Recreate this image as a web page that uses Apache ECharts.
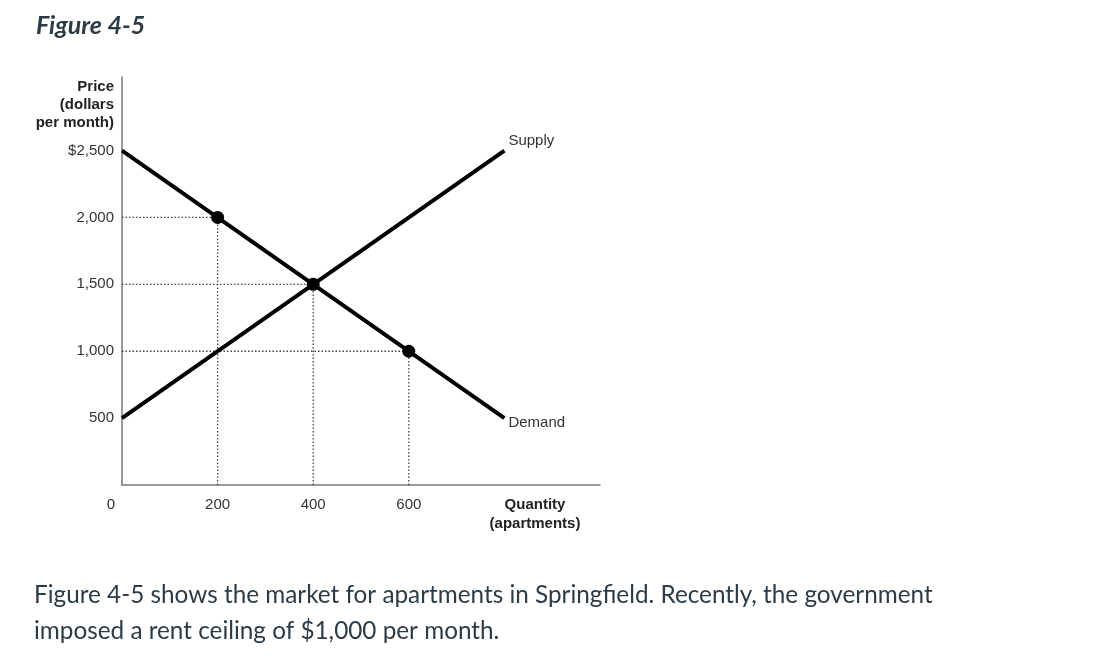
<!DOCTYPE html>
<html>
<head>
<meta charset="utf-8">
<script src="https://cdn.jsdelivr.net/npm/echarts@6/dist/echarts.min.js"></script>
<style>
html,body{margin:0;padding:0;background:#fff;}
#c{width:1098px;height:668px;}
</style>
</head>
<body>
<div id="c"></div>
<script>
// ---- data ----
const supplyQty = [0, 800];
const supplyPrice = [500, 2500];
const demandQty = [0, 800];
const demandPrice = [2500, 500];
const pointQty = [200, 400, 600];
const pointPrice = [2000, 1500, 1000];
const xTickValues = [0, 200, 400, 600];
const yTickValues = [500, 1000, 1500, 2000, 2500];
const figureTitle = 'Figure 4-5';
const yAxisTitle = 'Price\n(dollars\nper month)';
const xAxisTitle = 'Quantity\n(apartments)';
const caption = ['Figure 4-5 shows the market for apartments in Springfield. Recently, the government',
                 'imposed a rent ceiling of $1,000 per month.'];

const chartFont = '"Liberation Sans", Arial, sans-serif';
const textColor = '#333';

function fmtNum(v){ return v.toLocaleString('en-US'); }

const supplyData = supplyQty.map((q,i)=>[q, supplyPrice[i]]);
const demandData = demandQty.map((q,i)=>[q, demandPrice[i]]);

// dotted guide lines
const guides = [];
pointQty.forEach((q,i)=>{
  const p = pointPrice[i];
  guides.push([[0,p],[q,p]]);
  guides.push([[q,0],[q,p]]);
});
const guideSeries = guides.map(g=>({
  type:'line', data:g, symbol:'none', silent:true, z:1,
  lineStyle:{color:'#444', width:1.3, type:[1.5,2]}
}));

const chart = echarts.init(document.getElementById('c'), null, {renderer:'canvas'});
chart.setOption({
  animation:false,
  title:{text:figureTitle, left:31, top:8, textStyle:{fontFamily:'Lato', fontStyle:'italic', fontWeight:'bold', fontSize:25, color:'#2d3b45'}},
  grid:{left:122, top:77, right:498, bottom:183, containLabel:false},
  xAxis:{type:'value', min:0, max:1000, interval:200,
    axisLine:{show:true, onZero:false, lineStyle:{color:'#777', width:1.5}},
    axisTick:{show:false}, splitLine:{show:false},
    axisLabel:{margin:12, color:textColor, fontSize:15, fontFamily:chartFont,
      formatter:v=> xTickValues.indexOf(v)>=0 ? (v===0 ? '{z|0}' : fmtNum(v)) : '',
      rich:{z:{padding:[0,22,0,0], color:textColor, fontSize:15, fontFamily:chartFont}}}
  },
  yAxis:{type:'value', min:0, max:3050, interval:500,
    axisLine:{show:true, lineStyle:{color:'#777', width:1.5}},
    axisTick:{show:false}, splitLine:{show:false},
    axisLabel:{margin:8, color:textColor, fontSize:15, fontFamily:chartFont,
      formatter:v=> yTickValues.indexOf(v)>=0 ? (v===2500 ? '$'+fmtNum(v) : fmtNum(v)) : ''}
  },
  series:[
    ...guideSeries,
    {type:'line', name:'Supply', data:supplyData, symbol:'none', lineStyle:{color:'#000', width:4}, z:3,
      endLabel:{show:true, formatter:'Supply', offset:[0,-10], distance:4, color:textColor, fontSize:15, fontFamily:chartFont}},
    {type:'line', name:'Demand', data:demandData, symbol:'none', lineStyle:{color:'#000', width:4}, z:3,
      endLabel:{show:true, formatter:'Demand', offset:[0,5], distance:4, color:textColor, fontSize:15, fontFamily:chartFont}},
    {type:'scatter', data:pointQty.map((q,i)=>[q,pointPrice[i]]), symbol:'circle', symbolSize:13, itemStyle:{color:'#000', opacity:1}, z:4}
  ],
  graphic:[
    {type:'text', right:984, top:78, style:{text:yAxisTitle, font:'bold 15px '+chartFont, fill:'#222', textAlign:'right', lineHeight:18}},
    {type:'text', x:535, y:495, style:{text:xAxisTitle, font:'bold 15px '+chartFont, fill:'#222', textAlign:'center', lineHeight:19}},
    {type:'text', x:34, y:577, style:{text:caption.join('\n'), font:'24.3px Lato', fill:'#2d3b45', lineHeight:36}}
  ]
});
</script>
</body>
</html>
